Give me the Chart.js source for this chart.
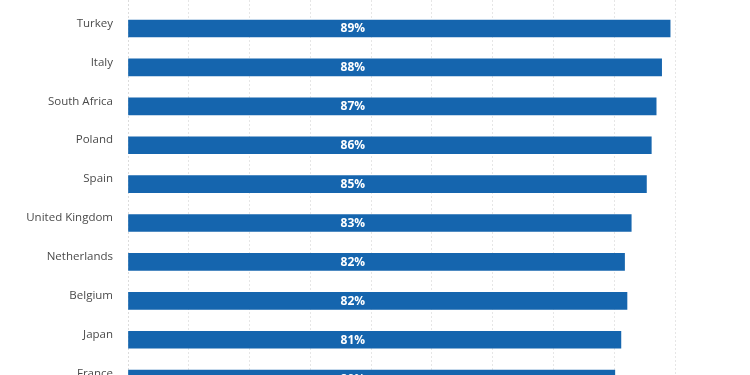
<!DOCTYPE html>
<html>
<head>
<meta charset="utf-8">
<script src="https://cdn.jsdelivr.net/npm/chart.js@4.4.0/dist/chart.umd.min.js"></script>
<style>
  html, body { margin: 0; padding: 0; background: #fff; overflow: hidden; }
  #wrap { position: relative; width: 750px; height: 400px; }
</style>
</head>
<body>
<div id="wrap"><canvas id="myChart"></canvas></div>
<script>
// data
const countries = ['Turkey', 'Italy', 'South Africa', 'Poland', 'Spain', 'United Kingdom', 'Netherlands', 'Belgium', 'Japan', 'France'];
const shares = [89.2, 87.8, 86.9, 86.1, 85.3, 82.8, 81.7, 82.1, 81.1, 80.1];
const shareLabels = ['89%', '88%', '87%', '86%', '85%', '83%', '82%', '82%', '81%', '80%'];
const xTicks = [0, 10, 20, 30, 40, 50, 60, 70, 80, 90];

const BLUE = '#1565ae';
const LABEL_AT = 37; // value-labels sit at a fixed x, like the original

// white % labels inside the bars
const barLabels = {
    id: 'barLabels',
    afterDatasetsDraw(chart) {
        const ctx = chart.ctx;
        const xs = chart.scales.x;
        const meta = chart.getDatasetMeta(0);
        ctx.save();
        ctx.fillStyle = '#ffffff';
        ctx.font = 'bold 12px "Open Sans", sans-serif';
        ctx.textAlign = 'center';
        ctx.textBaseline = 'middle';
        meta.data.forEach((bar, i) => {
            ctx.fillText(shareLabels[i], xs.getPixelForValue(LABEL_AT), bar.y + 0.5);
        });
        ctx.restore();
    }
};

const ctx = document.getElementById('myChart').getContext('2d');
const myChart = new Chart(ctx, {
    type: 'bar',
    data: {
        datasets: [{
            data: countries.map((c, i) => ({ x: shares[i], y: i })),
            backgroundColor: BLUE,
            barThickness: 17
        }]
    },
    options: {
        indexAxis: 'y',
        responsive: true,
        maintainAspectRatio: false,
        animation: false,
        layout: { padding: { left: 0, right: 75, top: 0, bottom: 0 } },
        plugins: {
            legend: { display: false },
            tooltip: { enabled: false }
        },
        scales: {
            x: {
                type: 'linear',
                min: 0,
                max: 90,
                afterBuildTicks: (s) => { s.ticks = xTicks.map(v => ({ value: v })); },
                ticks: { display: false },
                border: { display: false, dash: [2, 2] },
                grid: {
                    drawTicks: false,
                    color: (c) => c.tick && c.tick.value === 0 ? '#dcdcdc' : '#e6e6e6',
                    lineWidth: 1
                }
            },
            y: {
                type: 'linear',
                reverse: true,
                offset: false,
                min: -0.733,
                max: 9.55,
                afterFit: (s) => {
                    s.width = 128;
                    s.paddingTop = 0;
                    s.paddingBottom = 0;
                },
                ticks: {
                    stepSize: 1,
                    includeBounds: false,
                    autoSkip: false,
                    padding: 15,
                    labelOffset: -5,
                    color: '#4a4a4a',
                    font: { family: '"Open Sans", sans-serif', size: 11.5 },
                    callback: (v) => Number.isInteger(v) && countries[v] ? countries[v] : ''
                },
                border: { display: false },
                grid: { display: false, drawTicks: false }
            }
        }
    },
    plugins: [barLabels]
});
</script>
</body>
</html>
